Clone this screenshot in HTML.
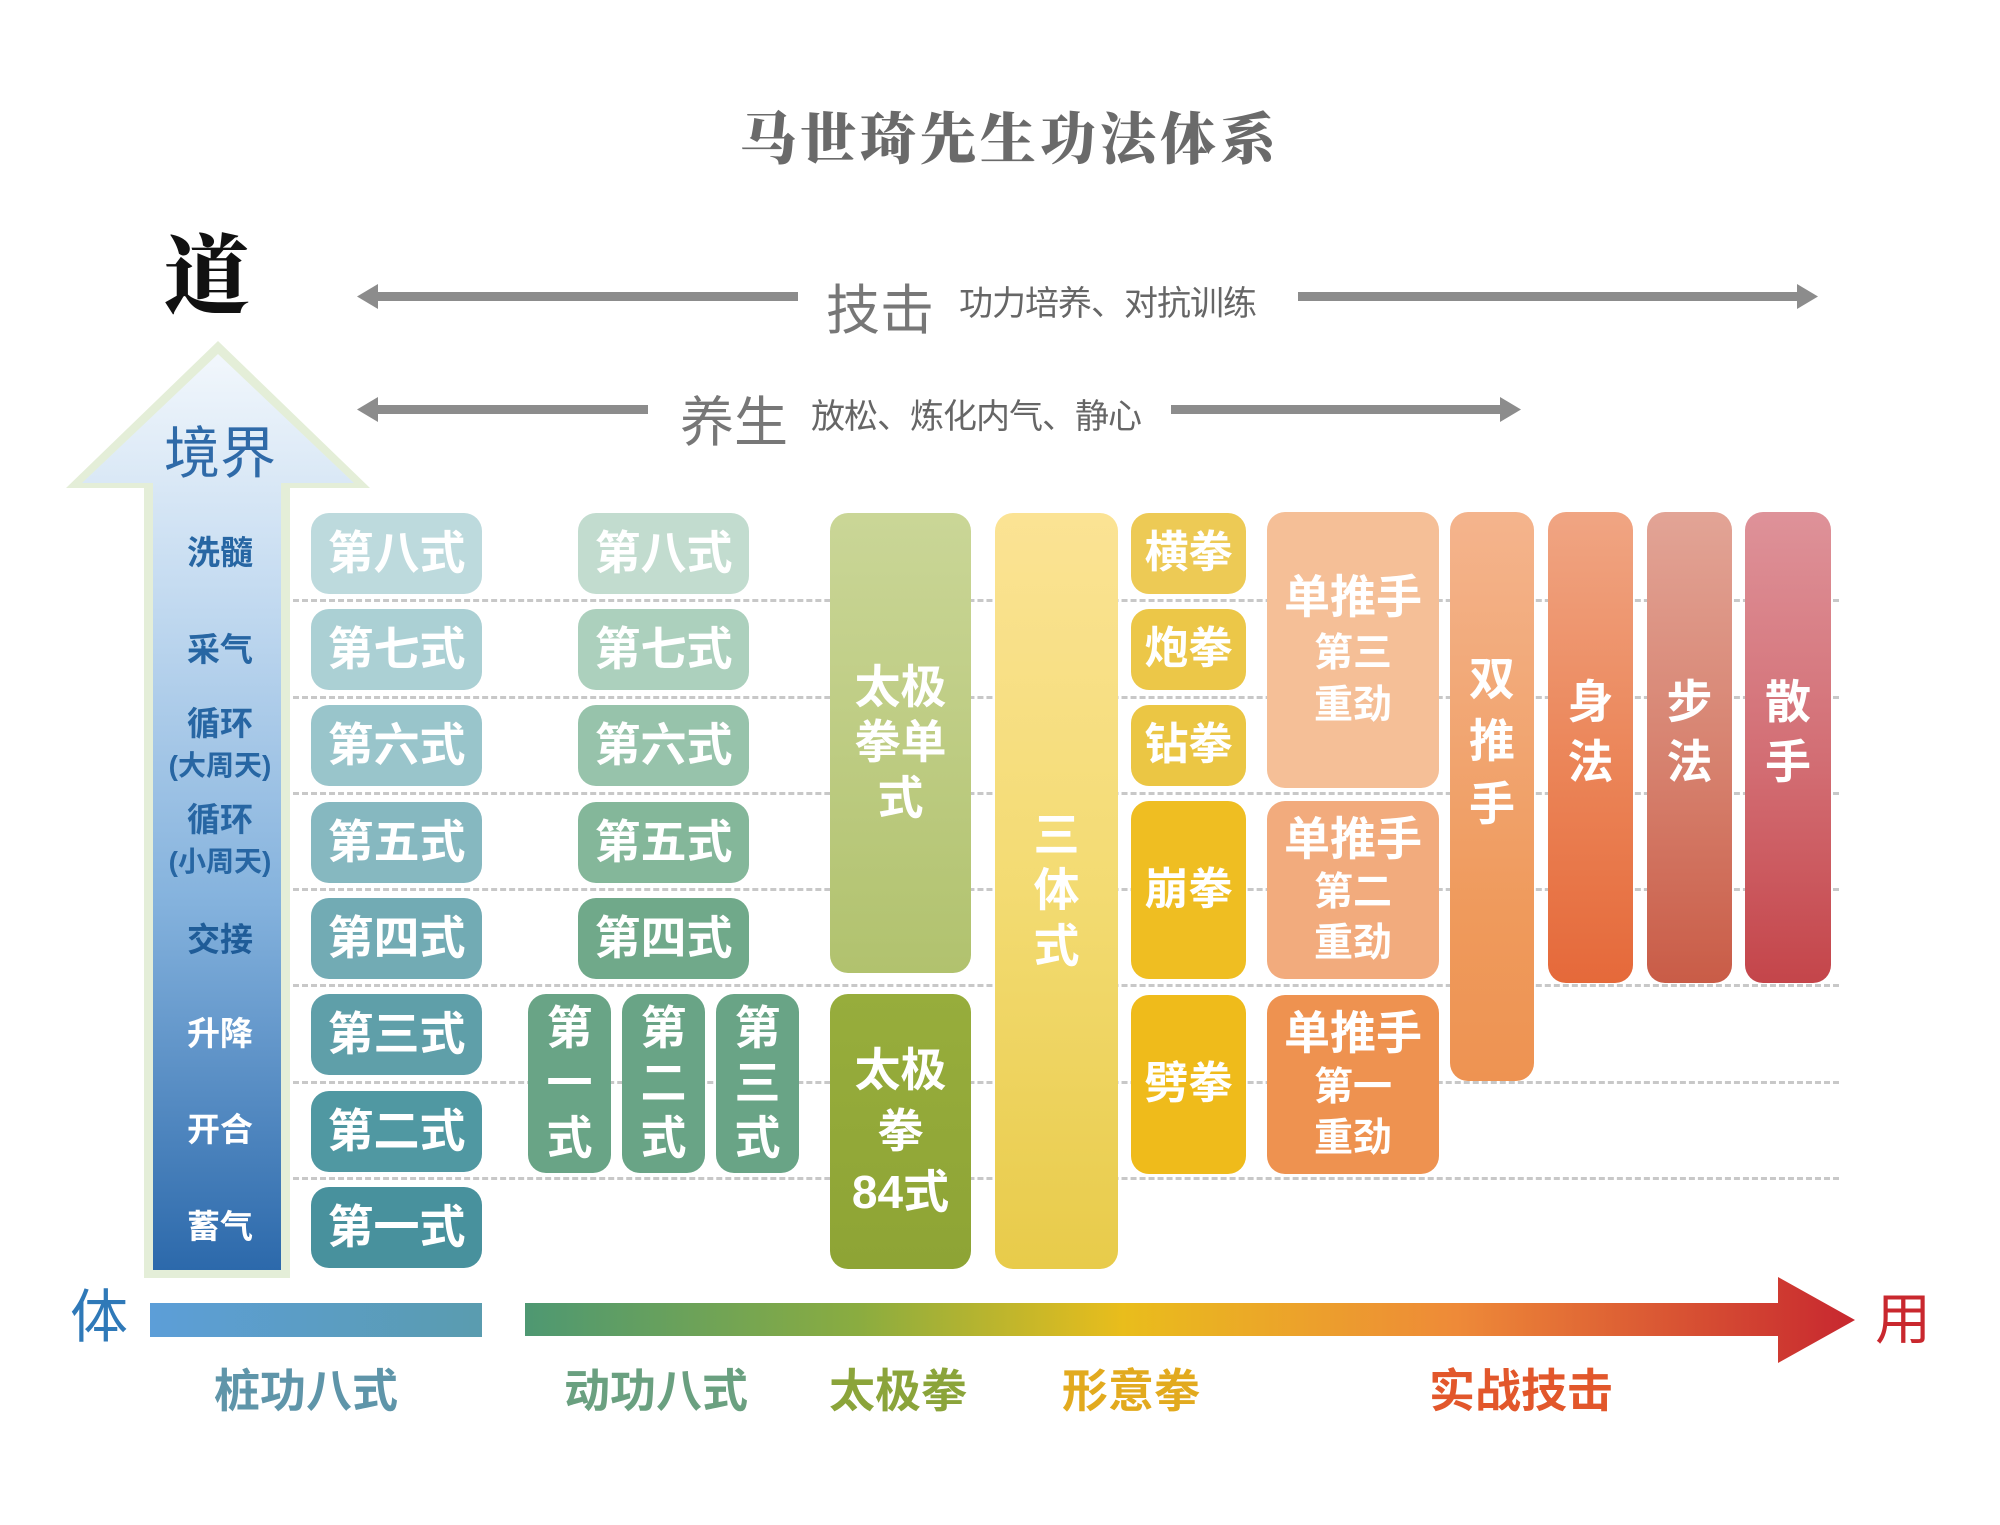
<!DOCTYPE html>
<html><head><meta charset="utf-8">
<style>
*{margin:0;padding:0;box-sizing:border-box}
body{width:2000px;height:1525px;background:#fff;position:relative;overflow:hidden;font-family:"Liberation Sans","Noto Sans CJK SC",sans-serif}
.a{position:absolute}
.b{position:absolute;border-radius:18px;color:#fff;font-weight:700;display:flex;align-items:center;justify-content:center;text-align:center;line-height:1.2}
.dl{position:absolute;left:293px;width:1546px;height:0;border-top:3px dashed #c8c8c8}
.lab{position:absolute;left:150px;width:140px;text-align:center;font-weight:700;font-size:33px;line-height:1.2}
.t{position:absolute;font-weight:700;font-size:46px;white-space:nowrap}
.v{flex-direction:column}
</style></head><body>

<div class="a" style="left:700px;top:96px;width:620px;text-align:center;font-family:'Liberation Serif','Noto Serif CJK SC',serif;font-weight:900;font-size:56px;color:#6a6a6a;letter-spacing:4px">马世琦先生功法体系</div>

<div class="a" style="left:164px;top:234px;font-family:'Liberation Serif','Noto Serif CJK SC',serif;font-weight:900;font-size:86px;color:#111;line-height:1">道</div>

<svg class="a" style="left:0;top:0" width="2000" height="520">
 <g fill="#8c8c8c">
  <rect x="370" y="292" width="428" height="9"/><polygon points="357,296.5 378,284 378,309"/>
  <rect x="1298" y="292" width="508" height="9"/><polygon points="1818,296.5 1797,284 1797,309"/>
  <rect x="370" y="405" width="278" height="9"/><polygon points="357,409.5 378,397 378,422"/>
  <rect x="1171" y="405" width="338" height="9"/><polygon points="1521,409.5 1500,397 1500,422"/>
 </g>
</svg>
<svg class="a" style="left:0;top:330px" width="400" height="960">
 <defs><linearGradient id="ug2" x1="0" y1="0" x2="0" y2="1">
  <stop offset="0" stop-color="#f2f7fc"/><stop offset="0.25" stop-color="#c6dcf1"/><stop offset="0.6" stop-color="#84b2dd"/><stop offset="1" stop-color="#2c69ab"/></linearGradient></defs>
 <polygon points="218,11 370,158 290,158 290,948 144,948 144,158 66,158" fill="#e4eed8"/>
 <polygon points="218,24 354,153 281,153 281,940 153,940 153,153 82,153" fill="url(#ug2)"/>
</svg>
<div class="a" style="left:146px;top:420px;width:148px;text-align:center;font-size:56px;color:#2f6aa8;line-height:1.2">境界</div>

<div class="lab" style="top:533px;color:#2766a3">洗髓</div>
<div class="lab" style="top:630px;color:#2766a3">采气</div>
<div class="lab" style="top:704px;color:#2766a3">循环<br><span style="font-size:28px">(大周天)</span></div>
<div class="lab" style="top:800px;color:#2766a3">循环<br><span style="font-size:28px">(小周天)</span></div>
<div class="lab" style="top:920px;color:#1f5c98">交接</div>
<div class="lab" style="top:1014px;color:#fff">升降</div>
<div class="lab" style="top:1110px;color:#fff">开合</div>
<div class="lab" style="top:1207px;color:#fff">蓄气</div>

<div class="t" style="left:826px;top:266px;font-size:54px;font-weight:400;color:#777">技击</div>
<div class="t" style="left:959px;top:276px;font-size:34px;font-weight:400;color:#666;letter-spacing:-1px">功力培养、对抗训练</div>
<div class="t" style="left:680px;top:378px;font-size:54px;font-weight:400;color:#777">养生</div>
<div class="t" style="left:811px;top:389px;font-size:34px;font-weight:400;color:#666;letter-spacing:-1px">放松、炼化内气、静心</div>

<div class="dl" style="top:599px"></div>
<div class="dl" style="top:696px"></div>
<div class="dl" style="top:792px"></div>
<div class="dl" style="top:888px"></div>
<div class="dl" style="top:984px"></div>
<div class="dl" style="top:1081px"></div>
<div class="dl" style="top:1177px"></div>

<div class="b" style="left:311px;top:513px;width:171px;height:81px;font-size:46px;background:#bddadd">第八式</div>
<div class="b" style="left:311px;top:609px;width:171px;height:81px;font-size:46px;background:#abd0d4">第七式</div>
<div class="b" style="left:311px;top:705px;width:171px;height:81px;font-size:46px;background:#99c5cb">第六式</div>
<div class="b" style="left:311px;top:802px;width:171px;height:81px;font-size:46px;background:#86b8c0">第五式</div>
<div class="b" style="left:311px;top:898px;width:171px;height:81px;font-size:46px;background:#72abb4">第四式</div>
<div class="b" style="left:311px;top:994px;width:171px;height:81px;font-size:46px;background:#5f9fa9">第三式</div>
<div class="b" style="left:311px;top:1091px;width:171px;height:81px;font-size:46px;background:#5098a2">第二式</div>
<div class="b" style="left:311px;top:1187px;width:171px;height:81px;font-size:46px;background:#48919d">第一式</div>

<div class="b" style="left:578px;top:513px;width:171px;height:81px;font-size:46px;background:#c2dccf">第八式</div>
<div class="b" style="left:578px;top:609px;width:171px;height:81px;font-size:46px;background:#acd0bd">第七式</div>
<div class="b" style="left:578px;top:705px;width:171px;height:81px;font-size:46px;background:#97c3ab">第六式</div>
<div class="b" style="left:578px;top:802px;width:171px;height:81px;font-size:46px;background:#84b79a">第五式</div>
<div class="b" style="left:578px;top:898px;width:171px;height:81px;font-size:46px;background:#70a98a">第四式</div>
<div class="b v" style="left:528px;top:994px;width:83px;height:179px;font-size:46px;background:#69a486">第<br>一<br>式</div>
<div class="b v" style="left:622px;top:994px;width:83px;height:179px;font-size:46px;background:#69a486">第<br>二<br>式</div>
<div class="b v" style="left:716px;top:994px;width:83px;height:179px;font-size:46px;background:#69a486">第<br>三<br>式</div>

<div class="b" style="left:830px;top:513px;width:141px;height:460px;font-size:46px;background:linear-gradient(#cad697,#b1c26e)">太极<br>拳单<br>式</div>
<div class="b" style="left:830px;top:994px;width:141px;height:275px;font-size:46px;line-height:1.32;background:linear-gradient(#97ad3c,#8ea435)">太极<br>拳<br>84式</div>

<div class="b" style="left:995px;top:513px;width:123px;height:756px;font-size:46px;background:linear-gradient(#fbe394,#f3db72 50%,#e8cb4a)">三<br>体<br>式</div>

<div class="b" style="left:1131px;top:513px;width:115px;height:81px;font-size:44px;background:#edca55">横拳</div>
<div class="b" style="left:1131px;top:609px;width:115px;height:81px;font-size:44px;background:#ecc748">炮拳</div>
<div class="b" style="left:1131px;top:705px;width:115px;height:81px;font-size:44px;background:#ebc644">钻拳</div>
<div class="b" style="left:1131px;top:801px;width:115px;height:178px;font-size:44px;background:#efbe22">崩拳</div>
<div class="b" style="left:1131px;top:995px;width:115px;height:179px;font-size:44px;background:#efbb1b">劈拳</div>

<div class="b" style="left:1267px;top:512px;width:172px;height:276px;font-size:46px;line-height:1.15;background:#f5bf97"><div>单推手<br><span style="font-size:39px">第三<br>重劲</span></div></div>
<div class="b" style="left:1267px;top:801px;width:172px;height:178px;font-size:46px;line-height:1.1;background:#f2ab7d"><div>单推手<br><span style="font-size:39px">第二<br>重劲</span></div></div>
<div class="b" style="left:1267px;top:995px;width:172px;height:179px;font-size:46px;line-height:1.1;background:#ee9250"><div>单推手<br><span style="font-size:39px">第一<br>重劲</span></div></div>
<div class="b" style="left:1450px;top:512px;width:84px;height:569px;font-size:46px;line-height:1.35;padding-bottom:110px;background:linear-gradient(#f4b48d,#ef9a5c 70%,#ee9352)">双<br>推<br>手</div>

<div class="b" style="left:1548px;top:512px;width:85px;height:471px;font-size:46px;line-height:1.3;padding-bottom:30px;background:linear-gradient(#f0a583,#eb8457 55%,#e5693a)">身<br>法</div>
<div class="b" style="left:1647px;top:512px;width:85px;height:471px;font-size:46px;line-height:1.3;padding-bottom:30px;background:linear-gradient(#e2a496,#d6806d 55%,#c95c47)">步<br>法</div>
<div class="b" style="left:1745px;top:512px;width:86px;height:471px;font-size:46px;line-height:1.3;padding-bottom:30px;background:linear-gradient(#de9299,#d26c72 55%,#c4454a)">散<br>手</div>

<div class="a" style="left:70px;top:1289px;font-size:58px;color:#2f79b8;line-height:1">体</div>
<div class="a" style="left:150px;top:1303px;width:332px;height:34px;background:linear-gradient(90deg,#5c9ed8,#5a9caf)"></div>
<svg class="a" style="left:520px;top:1270px" width="1350" height="100">
 <defs><linearGradient id="bg" x1="0" y1="0" x2="1" y2="0">
  <stop offset="0" stop-color="#4e9872"/><stop offset="0.25" stop-color="#8aac40"/><stop offset="0.45" stop-color="#e9bd1c"/><stop offset="0.7" stop-color="#ee8a38"/><stop offset="1" stop-color="#c7272f"/></linearGradient></defs>
 <polygon points="5,33 1258,33 1258,7 1335,50 1258,93 1258,66 5,66" fill="url(#bg)"/>
</svg>
<div class="a" style="left:1875px;top:1292px;font-size:56px;color:#c9282e;line-height:1">用</div>

<div class="t" style="left:214px;top:1355px;color:#5f95a9">桩功八式</div>
<div class="t" style="left:564px;top:1355px;color:#6aa080">动功八式</div>
<div class="t" style="left:829px;top:1355px;color:#8ba43a">太极拳</div>
<div class="t" style="left:1062px;top:1355px;color:#e2aa1e">形意拳</div>
<div class="t" style="left:1429px;top:1355px;color:#e2572b">实战技击</div>
</body></html>
